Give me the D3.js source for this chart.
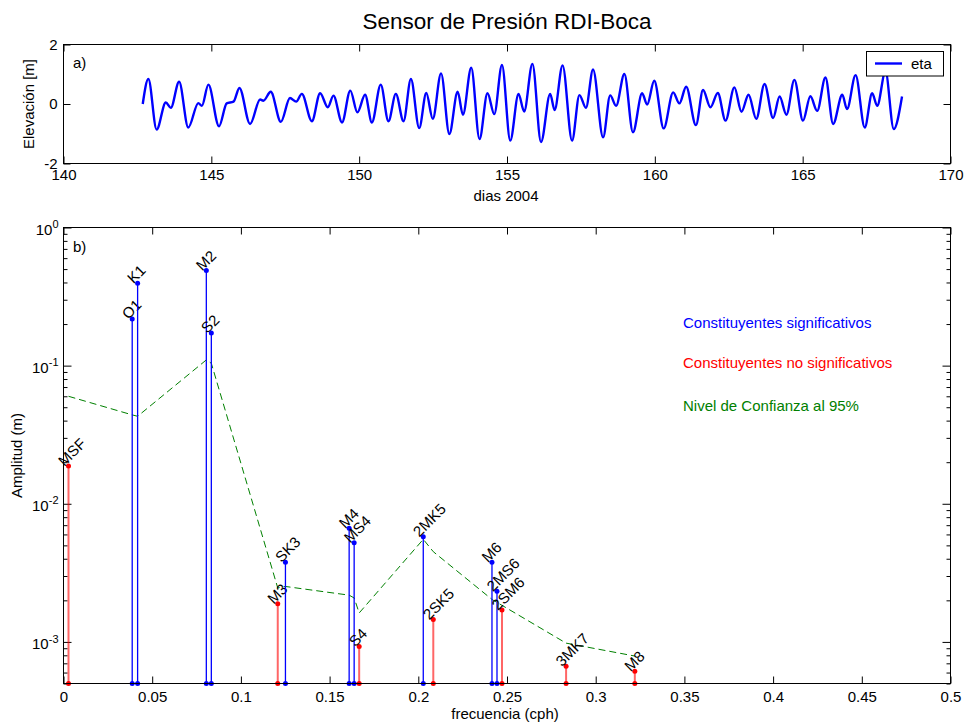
<!DOCTYPE html>
<html>
<head>
<meta charset="utf-8">
<script src="https://cdn.jsdelivr.net/npm/d3@7/dist/d3.min.js"></script>
<style>
  html, body { margin: 0; padding: 0; background: #fff; }
  svg { display: block; font-family: "Liberation Sans", Arial, Helvetica, sans-serif; }
  .tick text { font-size: 15px; fill: #000; }
</style>
</head>
<body>
<svg id="chart" width="964" height="724"></svg>
<script>
// ---- Panel a) : sea-surface elevation (eta) time series, days of 2004 ----
const etaDays = [
  142.68, 142.87, 143.15, 143.46, 143.63, 143.91, 144.22, 144.56, 144.68, 144.90,
  145.26, 145.52, 145.75, 145.95, 146.31, 146.65, 146.76, 147.01, 147.35, 147.66,
  147.87, 148.06, 148.40, 148.68, 148.94, 149.13, 149.42, 149.70, 149.94, 150.20,
  150.43, 150.73, 150.99, 151.24, 151.50, 151.75, 152.03, 152.27, 152.49, 152.77,
  153.05, 153.33, 153.51, 153.79, 154.07, 154.34, 154.57, 154.83, 155.11, 155.39,
  155.58, 155.86, 156.15, 156.46, 156.61, 156.88, 157.20, 157.45, 157.67, 157.91,
  158.25, 158.49, 158.69, 158.97, 159.26, 159.57, 159.74, 159.98, 160.30, 160.62,
  160.83, 161.06, 161.39, 161.63, 161.88, 162.13, 162.39, 162.69, 162.93, 163.17,
  163.43, 163.71, 164.00, 164.22, 164.45, 164.72, 165.01, 165.26, 165.49, 165.77,
  166.03, 166.34, 166.50, 166.79, 167.10, 167.35, 167.52, 167.80, 168.08, 168.36
];
const etaValues = [
  0.00, 0.84, -0.86, 0.05, -0.13, 0.75, -0.79, 0.03, -0.06, 0.65,
  -0.75, 0.02, 0.08, 0.54, -0.67, 0.15, 0.11, 0.41, -0.60, 0.20,
  0.08, 0.34, -0.58, 0.36, -0.11, 0.28, -0.62, 0.45, -0.28, 0.31,
  -0.62, 0.65, -0.58, 0.34, -0.58, 0.84, -0.81, 0.37, -0.50, 1.03,
  -1.01, 0.41, -0.36, 1.22, -1.18, 0.36, -0.34, 1.31, -1.23, 0.34,
  -0.25, 1.35, -1.28, 0.34, -0.20, 1.30, -1.23, 0.30, -0.13, 1.16,
  -1.12, 0.29, -0.06, 1.01, -0.95, 0.36, -0.02, 0.78, -0.82, 0.39,
  0.02, 0.58, -0.71, 0.47, -0.11, 0.37, -0.56, 0.56, -0.26, 0.31,
  -0.50, 0.67, -0.47, 0.25, -0.36, 0.81, -0.56, 0.26, -0.23, 0.89,
  -0.67, 0.31, -0.17, 0.97, -0.79, 0.36, -0.06, 1.10, -0.84, 0.25
];
const dayTicks = [140, 145, 150, 155, 160, 165, 170];
const elevTicks = [-2, 0, 2];

// ---- Panel b) : tidal constituent amplitudes and 95% confidence level ----
const constituents = ["MSF", "O1", "K1", "M2", "S2", "M3", "SK3", "M4", "MS4", "S4",
                      "2MK5", "2SK5", "M6", "2MS6", "2SM6", "3MK7", "M8"];
const frequencies = [0.00282, 0.03873, 0.04178, 0.08051, 0.08333, 0.12077, 0.12511,
                     0.16102, 0.16384, 0.16667, 0.20280, 0.20845, 0.24153, 0.24436,
                     0.24718, 0.28331, 0.32205];
const amplitudes = [0.0188, 0.218, 0.395, 0.488, 0.172, 0.00189, 0.00378, 0.00664,
                    0.00522, 0.000927, 0.00578, 0.00145, 0.00378, 0.00233, 0.00170,
                    0.000667, 0.000614];
const significant = [false, true, true, true, true, false, true, true, true, false,
                     true, false, true, true, false, false, false];
const confidence = [0.060, 0.044, 0.043, 0.110, 0.104, 0.00246, 0.00252, 0.00218,
                    0.00208, 0.00162, 0.00553, 0.00450, 0.00203, 0.00193, 0.00184,
                    0.00098, 0.00079];
const freqTicks = [0, 0.05, 0.1, 0.15, 0.2, 0.25, 0.3, 0.35, 0.4, 0.45, 0.5];
const decadeTicks = [1e-3, 1e-2, 1e-1, 1];
const minorTicks = [];
for (let e = -4; e < 0; e++) {
  for (let m = 2; m <= 9; m++) {
    const v = m * Math.pow(10, e);
    if (v >= 5e-4 && v < 1) minorTicks.push(v);
  }
}

const BLUE = "#0000ff", RED = "#ff0000", GREEN = "#008000";
const FS = "15px";
const svg = d3.select("#chart");

// Shared horizontal extent of both panels
const left = 63.5, right = 950.5;

// Title
svg.append("text")
  .attr("x", 507).attr("y", 29)
  .attr("text-anchor", "middle")
  .style("font-size", "22.5px")
  .text("Sensor de Presión RDI-Boca");

// ================= Panel a) =================
const aTop = 44.5, aBottom = 163.5;
const xa = d3.scaleLinear().domain([140, 170]).range([left, right]);
const ya = d3.scaleLinear().domain([-2, 2]).range([aBottom, aTop]);
const intFmt = d => String(d);

svg.append("g").attr("transform", `translate(0,${aBottom})`)
  .call(d3.axisBottom(xa).tickValues(dayTicks).tickFormat(intFmt)
        .tickSizeInner(-7).tickSizeOuter(0).tickPadding(6))
  .call(g => g.select(".domain").remove());
svg.append("g").attr("transform", `translate(0,${aTop})`)
  .call(d3.axisTop(xa).tickValues(dayTicks).tickFormat("")
        .tickSizeInner(-7).tickSizeOuter(0))
  .call(g => g.select(".domain").remove());
svg.append("g").attr("transform", `translate(${left},0)`)
  .call(d3.axisLeft(ya).tickValues(elevTicks).tickFormat(intFmt)
        .tickSizeInner(-7).tickSizeOuter(0).tickPadding(6))
  .call(g => g.select(".domain").remove());
svg.append("g").attr("transform", `translate(${right},0)`)
  .call(d3.axisRight(ya).tickValues(elevTicks).tickFormat("")
        .tickSizeInner(-7).tickSizeOuter(0))
  .call(g => g.select(".domain").remove());

svg.selectAll(".tick line").attr("stroke", "#000");

const etaLine = d3.line()
  .x((d, i) => xa(etaDays[i]))
  .y(d => ya(d))
  .curve(d3.curveMonotoneX);
svg.append("path")
  .datum(etaValues)
  .attr("d", etaLine)
  .attr("fill", "none")
  .attr("stroke", BLUE)
  .attr("stroke-width", 2.4)
  .attr("stroke-linejoin", "round");

svg.append("rect")
  .attr("x", left).attr("y", aTop)
  .attr("width", right - left).attr("height", aBottom - aTop)
  .attr("fill", "none").attr("stroke", "#000").attr("stroke-width", 1);

svg.append("text").attr("x", 73).attr("y", 68).style("font-size", FS).text("a)");
svg.append("text").attr("x", 506).attr("y", 201).attr("text-anchor", "middle")
  .style("font-size", FS).text("dias 2004");
svg.append("text")
  .attr("transform", `translate(34,${(aTop + aBottom) / 2}) rotate(-90)`)
  .attr("text-anchor", "middle").style("font-size", FS)
  .text("Elevación [m]");

// Legend
const lg = svg.append("g");
lg.append("rect").attr("x", 866.5).attr("y", 51.5).attr("width", 77).attr("height", 24.5)
  .attr("fill", "#fff").attr("stroke", "#000").attr("stroke-width", 1);
lg.append("line").attr("x1", 875).attr("x2", 902).attr("y1", 63.5).attr("y2", 63.5)
  .attr("stroke", BLUE).attr("stroke-width", 2.4);
lg.append("text").attr("x", 911).attr("y", 69).style("font-size", FS).text("eta");

// ================= Panel b) =================
const bTop = 227.5, bBottom = 683.5;
const xb = d3.scaleLinear().domain([0, 0.5]).range([left, right]);
const yb = d3.scaleLog().domain([5e-4, 1]).range([bBottom, bTop]);
const freqFmt = d => String(d);

svg.append("g").attr("transform", `translate(0,${bBottom})`)
  .call(d3.axisBottom(xb).tickValues(freqTicks).tickFormat(freqFmt)
        .tickSizeInner(-7).tickSizeOuter(0).tickPadding(8))
  .call(g => g.select(".domain").remove());
svg.append("g").attr("transform", `translate(0,${bTop})`)
  .call(d3.axisTop(xb).tickValues(freqTicks).tickFormat("")
        .tickSizeInner(-7).tickSizeOuter(0))
  .call(g => g.select(".domain").remove());

// Left log axis: decades with superscript labels, then minor ticks
svg.append("g").attr("transform", `translate(${left},0)`)
  .call(d3.axisLeft(yb).tickValues(decadeTicks).tickFormat("")
        .tickSizeInner(-8).tickSizeOuter(0).tickPadding(5))
  .call(g => g.select(".domain").remove())
  .call(g => g.selectAll(".tick text").each(function (d) {
    const t = d3.select(this).attr("dy", "0.45em");
    const e = Math.round(Math.log10(d));
    t.append("tspan").text("10");
    t.append("tspan").attr("dy", "-0.6em").style("font-size", "11px")
      .text(e === 0 ? "0" : "-" + Math.abs(e));
  }));
svg.append("g").attr("transform", `translate(${left},0)`)
  .call(d3.axisLeft(yb).tickValues(minorTicks).tickFormat("")
        .tickSizeInner(-4).tickSizeOuter(0))
  .call(g => g.select(".domain").remove());
svg.append("g").attr("transform", `translate(${right},0)`)
  .call(d3.axisRight(yb).tickValues(decadeTicks).tickFormat("")
        .tickSizeInner(-8).tickSizeOuter(0))
  .call(g => g.select(".domain").remove());
svg.append("g").attr("transform", `translate(${right},0)`)
  .call(d3.axisRight(yb).tickValues(minorTicks).tickFormat("")
        .tickSizeInner(-4).tickSizeOuter(0))
  .call(g => g.select(".domain").remove());
svg.selectAll(".tick line").attr("stroke", "#000");

// 95% confidence level (dashed)
const confLine = d3.line()
  .x((d, i) => xb(frequencies[i]))
  .y(d => yb(d));
svg.append("path")
  .datum(confidence)
  .attr("d", confLine)
  .attr("fill", "none")
  .attr("stroke", GREEN)
  .attr("stroke-width", 1)
  .attr("stroke-dasharray", "7,4");

// Stems with markers at both ends
const stems = svg.append("g").selectAll("g")
  .data(constituents.map((name, i) => ({
    name, f: frequencies[i], a: amplitudes[i], sig: significant[i]
  })))
  .join("g");
stems.append("line")
  .attr("x1", d => xb(d.f)).attr("x2", d => xb(d.f))
  .attr("y1", bBottom).attr("y2", d => yb(d.a))
  .attr("stroke", d => d.sig ? BLUE : RED)
  .attr("stroke-opacity", d => d.sig ? 1 : 0.6)
  .attr("stroke-width", d => d.sig ? 1.3 : 2);
stems.append("circle")
  .attr("cx", d => xb(d.f)).attr("cy", d => yb(d.a)).attr("r", 2.5)
  .attr("fill", d => d.sig ? BLUE : RED);
stems.append("circle")
  .attr("cx", d => xb(d.f)).attr("cy", bBottom).attr("r", 2.5)
  .attr("fill", d => d.sig ? BLUE : RED);
stems.append("text")
  .attr("transform", d => `translate(${xb(d.f) - 4},${yb(d.a) + 1}) rotate(-45)`)
  .style("font-size", FS)
  .text(d => d.name);

svg.append("rect")
  .attr("x", left).attr("y", bTop)
  .attr("width", right - left).attr("height", bBottom - bTop)
  .attr("fill", "none").attr("stroke", "#000").attr("stroke-width", 1);

svg.append("text").attr("x", 73).attr("y", 252).style("font-size", FS).text("b)");
svg.append("text").attr("x", 505).attr("y", 719).attr("text-anchor", "middle")
  .style("font-size", FS).text("frecuencia (cph)");
svg.append("text")
  .attr("transform", `translate(22,${(bTop + bBottom) / 2}) rotate(-90)`)
  .attr("text-anchor", "middle").style("font-size", FS)
  .text("Amplitud (m)");

// Colour key
svg.append("text").attr("x", 683).attr("y", 328).attr("fill", BLUE)
  .style("font-size", FS).text("Constituyentes significativos");
svg.append("text").attr("x", 683).attr("y", 368).attr("fill", RED)
  .style("font-size", FS).text("Constituyentes no significativos");
svg.append("text").attr("x", 683).attr("y", 411).attr("fill", GREEN)
  .style("font-size", FS).text("Nivel de Confianza al 95%");
</script>
</body>
</html>
